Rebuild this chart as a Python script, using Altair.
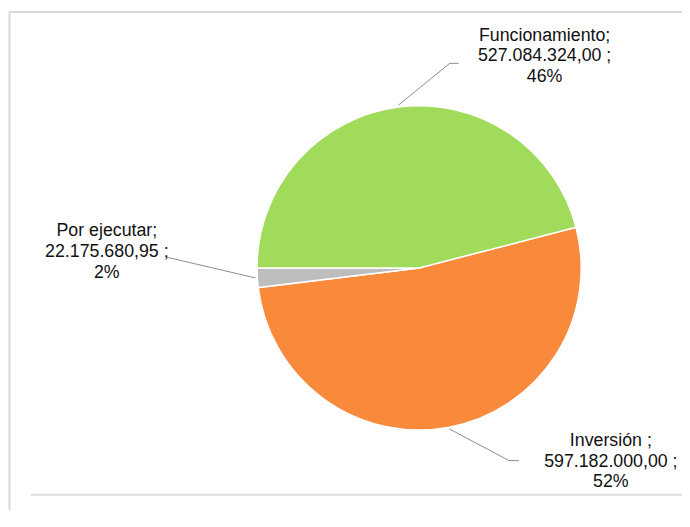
import math
import altair as alt
import pandas as pd

# ---- data ----
names = ["Inversión", "Por ejecutar", "Funcionamiento"]
values = [597182000.00, 22175680.95, 527084324.00]
name_sep = [" ;", ";", ";"]
colors = ["#F98A3B", "#BDBDBD", "#A0DB5B"]

# ---- layout (style, not data) ----
W, H = 682, 505
CX, CY, R = 416, 260, 165
START_DEG = 75.5
label_xy = {  # label anchor (center x, first baseline y) in view px
    "Funcionamiento": (543, 30),
    "Por ejecutar": (100, 228),
    "Inversión": (610, 440),
}
elbows = {  # leader line points after the slice edge
    "Funcionamiento": [(447, 53), (456, 53)],
    "Por ejecutar": [(160, 249)],
    "Inversión": [(507, 455), (517, 455)],
}

total = sum(values)
start = math.radians(START_DEG)


def fmt(v):
    s = f"{v:,.2f}"
    return s.replace(",", "X").replace(".", ",").replace("X", ".")


pie = pd.DataFrame({
    "name": names,
    "value": values,
    "order": list(range(len(names))),
})

# labels
lab_rows = []
for n, v, sp in zip(names, values, name_sep):
    pct = round(v / total * 100)
    lx, ly = label_xy[n]
    lab_rows.append({"name": n, "x": lx, "y": ly,
                     "text": f"{n}{sp}\n{fmt(v)} ;\n{pct}%"})
labels = pd.DataFrame(lab_rows)

# leader lines: start at slice mid-angle on the rim
lead_rows = []
cum = 0.0
for n, v in zip(names, values):
    a = start + 2 * math.pi * (cum + v / 2) / total
    cum += v
    pts = [(CX + (R + 1) * math.sin(a), CY - (R + 1) * math.cos(a))] + elbows[n]
    for i, (px, py) in enumerate(pts):
        lead_rows.append({"name": n, "idx": i, "x": px, "y": py})
leaders = pd.DataFrame(lead_rows)

color_scale = alt.Scale(domain=names, range=colors)
theta_scale = alt.Scale(range=[start, start + 2 * math.pi])

one = pd.DataFrame({"v": [1]})

shadow = alt.Chart(one).mark_arc(
    radius=R + 2, color="#A3A3A3"
).encode(theta=alt.Theta("v:Q"), x=alt.value(CX), y=alt.value(CY + 1))

rim = alt.Chart(one).mark_arc(
    radius=R + 0.5, color="#E6E6E6"
).encode(theta=alt.Theta("v:Q"), x=alt.value(CX), y=alt.value(CY))

slices = alt.Chart(pie).mark_arc(
    radius=R - 1, stroke="white", strokeWidth=1.5
).encode(
    theta=alt.Theta("value:Q", stack=True, scale=theta_scale),
    color=alt.Color("name:N", scale=color_scale, legend=None),
    order=alt.Order("order:Q"),
    x=alt.value(CX), y=alt.value(CY),
)

bevel = alt.Chart(one).mark_arc(
    radius=R - 1,
    color={
        "gradient": "radial",
        "x1": 0.5, "y1": 0.5, "r1": 0,
        "x2": 0.5, "y2": 0.5, "r2": 0.5,
        "stops": [
            {"offset": 0, "color": "rgba(255,255,255,0)"},
            {"offset": 0.90, "color": "rgba(255,255,255,0)"},
            {"offset": 0.95, "color": "rgba(255,255,255,0.18)"},
            {"offset": 1, "color": "rgba(60,60,60,0.25)"},
        ],
    },
).encode(theta=alt.Theta("v:Q"), x=alt.value(CX), y=alt.value(CY))

lines = alt.Chart(leaders).mark_line(color="#8C8C8C", strokeWidth=1).encode(
    x=alt.X("x:Q", scale=None, axis=None),
    y=alt.Y("y:Q", scale=None, axis=None),
    detail="name:N",
    order="idx:Q",
)

texts = alt.Chart(labels).mark_text(
    font="Liberation Sans", fontSize=18, lineBreak="\n", lineHeight=21,
    align="center", baseline="alphabetic", color="#111111"
).encode(
    x=alt.X("x:Q", scale=None, axis=None),
    y=alt.Y("y:Q", scale=None, axis=None),
    text="text:N",
)

frame_left = alt.Chart(pd.DataFrame({"v": [0]})).mark_rule(
    color="#D9D9D9", strokeWidth=2
).encode(x=alt.value(1.5), y=alt.value(0), y2=alt.value(H))
frame_top = alt.Chart(pd.DataFrame({"v": [0]})).mark_rule(
    color="#D9D9D9", strokeWidth=2
).encode(x=alt.value(1), x2=alt.value(W), y=alt.value(1))
frame_bottom = alt.Chart(pd.DataFrame({"v": [0]})).mark_rule(
    color="#DDDDDD", strokeWidth=2
).encode(x=alt.value(23), x2=alt.value(W), y=alt.value(489.5))

chart = alt.layer(
    frame_left, frame_top, frame_bottom, shadow, rim, slices, bevel, lines, texts
).properties(
    width=W, height=H, padding=0, autosize=alt.AutoSizeParams(type="none")
).configure_view(stroke=None)

chart.save("out.html", embed_options={"renderer": "svg", "actions": False})
